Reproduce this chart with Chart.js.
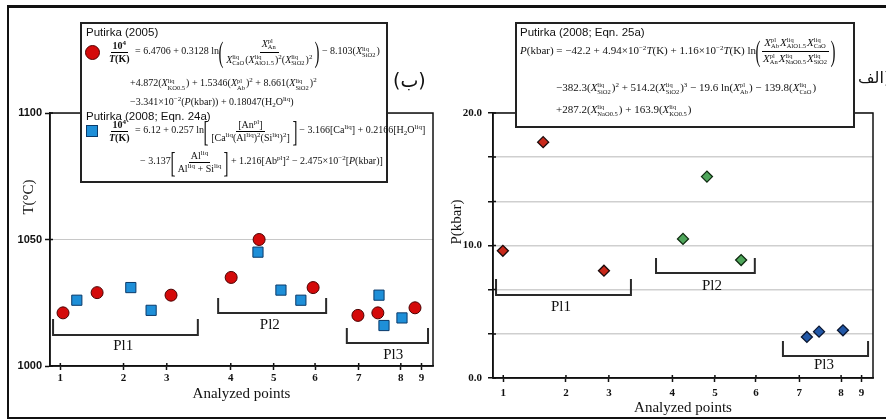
<!DOCTYPE html>
<html>
<head>
<meta charset="utf-8">
<script src="https://cdn.jsdelivr.net/npm/chart.js@4.4.0/dist/chart.umd.min.js"></script>
<style>
body{margin:0;width:886px;height:419px;position:relative;background:#fff;overflow:hidden;font-family:'Liberation Serif',serif;color:#111}
canvas{position:absolute;top:0}
#cT{left:0}
#cP{left:443px}
.frame{position:absolute;left:7px;top:5px;width:885px;height:409px;border-top:3px solid #111;border-left:2px solid #111;border-bottom:2px solid #111}
.box{position:absolute;background:#fff;border:2px solid #222;box-sizing:border-box}
.ln{position:absolute;white-space:nowrap;font-size:10px;line-height:1;transform:translateY(-50%)}
.hd{position:absolute;white-space:nowrap;font-family:'Liberation Sans',sans-serif;font-size:11.5px;transform:translateY(-50%)}
.ss{display:inline-flex;flex-direction:column;font-size:6.5px;line-height:6.5px;vertical-align:middle;text-align:left;margin:0 1px 0 0}
.fr{display:inline-flex;flex-direction:column;align-items:center;vertical-align:middle;margin:0 1px}
.fr>span{display:block;padding:0 2px;white-space:nowrap}
.fr>span:first-child{border-bottom:1px solid #000;padding-bottom:1px}
.fr>span:last-child{padding-top:1px}
.bp{display:inline-block;font-size:30px;line-height:1;transform:scaleX(.5);vertical-align:middle;margin:0 -3px;font-weight:normal}
sup{font-size:7px;vertical-align:4px;line-height:0}
sub{font-size:7px;vertical-align:-2px;line-height:0}
.ytl{position:absolute;font-size:15px;white-space:nowrap;transform:translate(-50%,-50%) rotate(-90deg)}
.ar{position:absolute;font-family:'DejaVu Sans',sans-serif;white-space:nowrap;transform:translateY(-50%)}
.mk{position:absolute;box-sizing:border-box}
</style>
</head>
<body>
<canvas id="cT" width="443" height="419"></canvas>
<canvas id="cP" width="443" height="419"></canvas>
<div class="frame"></div>

<div class="ytl" style="left:28px;top:197px">T(°C)</div>
<div class="ytl" style="left:456px;top:222px">P(kbar)</div>

<div class="box" style="left:80px;top:22px;width:308px;height:161px"></div>
<div class="hd" style="left:86px;top:32px">Putirka (2005)</div>
<div class="mk" style="left:85px;top:45px;width:15px;height:15px;border-radius:50%;background:#d40a0a;border:1px solid #500"></div>
<div class="ln" id="e1" style="left:106px;top:52px"></div>
<div class="ln" id="e2" style="left:130px;top:84px"></div>
<div class="ln" id="e3" style="left:130px;top:102px"></div>
<div class="hd" style="left:86px;top:116px">Putirka (2008; Eqn. 24a)</div>
<div class="mk" style="left:86px;top:125px;width:12px;height:12px;background:#1e8fd8;border:1px solid #0a3a6a"></div>
<div class="ln" id="e4" style="left:106px;top:131px"></div>
<div class="ln" id="e5" style="left:140px;top:162px"></div>

<div class="box" style="left:515px;top:22px;width:340px;height:106px"></div>
<div class="hd" style="left:520px;top:32px">Putirka (2008; Eqn. 25a)</div>
<div class="ln" id="e6" style="left:520px;top:51px;font-size:11px"></div>
<div class="ln" id="e7" style="left:556px;top:88px;font-size:11px"></div>
<div class="ln" id="e8" style="left:556px;top:110px;font-size:11px"></div>

<div class="ar" style="left:393px;top:80px;font-size:19px">(ب)</div>
<div class="ar" style="left:858px;top:77px;font-size:16px">الف)</div>

<script>
// x axis: position of each tick and its label (the ticks are not evenly spaced)
var tickPos = [0.27, 1.92, 3.05, 4.72, 5.84, 6.92, 8.06, 9.16, 9.70];
var tickLabels = ['1', '2', '3', '4', '5', '6', '7', '8', '9'];

var tempTicks = [1000, 1050, 1100];
var tempTickLabels = ['1000', '1050', '1100'];
var presTicks = [0, 3.33, 6.67, 10, 13.33, 16.67, 20];
var presTickLabels = ['0.0', '', '', '10.0', '', '', '20.0'];

var groups = ['Pl1', 'Pl2', 'Pl3'];

// temperature - Putirka (2005), red circles
var put05X = [0.34, 1.23, 3.16, 4.73, 5.46, 6.87, 8.04, 8.56, 9.53];
var put05T = [1021, 1029, 1028, 1035, 1050, 1031, 1020, 1021, 1023];
// temperature - Putirka (2008; 24a), blue squares
var put08X = [0.70, 2.11, 2.64, 5.43, 6.03, 6.55, 8.59, 8.72, 9.19];
var put08T = [1026, 1031, 1022, 1045, 1030, 1026, 1028, 1016, 1019];

// pressure - Putirka (2008; 25a)
var pl1X = [0.26, 1.32, 2.92];
var pl1P = [9.6, 17.8, 8.1];
var pl2X = [5.00, 5.63, 6.53];
var pl2P = [10.5, 15.2, 8.9];
var pl3X = [8.26, 8.58, 9.21];
var pl3P = [3.1, 3.5, 3.6];

// brackets under the groups (from, to, bottom, top of legs) + label spot
var tBrX0 = [0.08, 4.39, 7.75];
var tBrX1 = [3.86, 7.21, 9.87];
var tBrY = [1012.3, 1020.9, 1009.1];
var tBrTop = [1018.6, 1026.9, 1015.0];
var tLabX = [1.91, 5.74, 8.96];
var tLabY = [1007.9, 1016.2, 1004.3];

var pBrX0 = [0.08, 4.29, 7.63];
var pBrX1 = [3.63, 6.89, 9.87];
var pBrY = [6.26, 7.92, 1.66];
var pBrTop = [7.47, 9.06, 2.79];
var pLabX = [1.79, 5.76, 8.71];
var pLabY = [5.36, 6.94, 0.98];

// ---- equations in the boxes ----
function X(sub, sup) { return '<i>X</i><span class="ss"><span>' + sup + '</span><span>' + sub + '</span></span>'; }
function F(a, b) { return '<span class="fr"><span>' + a + '</span><span>' + b + '</span></span>'; }
function BP(c) { return '<span class="bp">' + c + '</span>'; }
var tk = F('<b>10<sup>4</sup></b>', '<b><i>T</i>(K)</b>');
document.getElementById('e1').innerHTML = tk + ' = 6.4706 + 0.3128 ln' + BP('(') +
  F(X('An', 'pl'), X('CaO', 'liq') + '(' + X('AlO1.5', 'liq') + ')<sup>2</sup>(' + X('SiO2', 'liq') + ')<sup>2</sup>') +
  BP(')') + ' &minus; 8.103(' + X('SiO2', 'liq') + ')';
document.getElementById('e2').innerHTML = '+4.872(' + X('KO0.5', 'liq') + ') + 1.5346(' + X('Ab', 'pl') + ')<sup>2</sup> + 8.661(' + X('SiO2', 'liq') + ')<sup>2</sup>';
document.getElementById('e3').innerHTML = '&minus;3.341&times;10<sup>&minus;2</sup>(<i>P</i>(kbar)) + 0.18047(H<sub>2</sub>O<sup>liq</sup>)';
document.getElementById('e4').innerHTML = tk + ' = 6.12 + 0.257 ln' + BP('[') +
  F('[An<sup>pl</sup>]', '[Ca<sup>liq</sup>(Al<sup>liq</sup>)<sup>2</sup>(Si<sup>liq</sup>)<sup>2</sup>]') +
  BP(']') + ' &minus; 3.166[Ca<sup>liq</sup>] + 0.2166[H<sub>2</sub>O<sup>liq</sup>]';
document.getElementById('e5').innerHTML = '&minus; 3.137' + BP('[') + F('Al<sup>liq</sup>', 'Al<sup>liq</sup> + Si<sup>liq</sup>') + BP(']') +
  ' + 1.216[Ab<sup>pl</sup>]<sup>2</sup> &minus; 2.475&times;10<sup>&minus;2</sup>[<i>P</i>(kbar)]';
document.getElementById('e6').innerHTML = '<i>P</i>(kbar) = &minus;42.2 + 4.94&times;10<sup>&minus;2</sup><i>T</i>(K) + 1.16&times;10<sup>&minus;2</sup><i>T</i>(K) ln' + BP('(') +
  F(X('Ab', 'pl') + X('AlO1.5', 'liq') + X('CaO', 'liq'), X('An', 'pl') + X('NaO0.5', 'liq') + X('SiO2', 'liq')) + BP(')');
document.getElementById('e7').innerHTML = '&minus;382.3(' + X('SiO2', 'liq') + ')<sup>2</sup> + 514.2(' + X('SiO2', 'liq') + ')<sup>3</sup> &minus; 19.6 ln(' + X('Ab', 'pl') + ') &minus; 139.8(' + X('CaO', 'liq') + ')';
document.getElementById('e8').innerHTML = '+287.2(' + X('NaO0.5', 'liq') + ') + 163.9(' + X('KO0.5', 'liq') + ')';

// ---- charts ----
Chart.defaults.font.family = "'Liberation Serif', serif";
Chart.defaults.color = '#111';

function pts(xs, ys) { return xs.map(function (x, i) { return { x: x, y: ys[i] }; }); }

function brackets(x0, x1, yb, yt) {
  return groups.map(function (g, i) {
    return {
      data: [{ x: x0[i], y: yt[i] }, { x: x0[i], y: yb[i] }, { x: x1[i], y: yb[i] }, { x: x1[i], y: yt[i] }],
      showLine: true, borderColor: '#2a2a2a', borderWidth: 2, pointRadius: 0, order: 5
    };
  });
}

// black border round the plot area + small inner tick marks
var framePlugin = {
  id: 'frame',
  afterDatasetsDraw: function (chart) {
    var a = chart.chartArea, c = chart.ctx;
    c.save();
    c.strokeStyle = '#111';
    c.lineWidth = 1.5;
    c.strokeRect(a.left, a.top, a.right - a.left, a.bottom - a.top);
    c.beginPath();
    chart.scales.x.ticks.forEach(function (t) {
      var px = chart.scales.x.getPixelForValue(t.value);
      c.moveTo(px, a.bottom); c.lineTo(px, a.bottom - 3);
    });
    chart.scales.y.ticks.forEach(function (t) {
      var py = chart.scales.y.getPixelForValue(t.value);
      c.moveTo(a.left, py); c.lineTo(a.left + 3, py);
    });
    c.stroke();
    c.restore();
  }
};

var labelPlugin = {
  id: 'groupLabels',
  afterDatasetsDraw: function (chart, args, opts) {
    var c = chart.ctx;
    c.save();
    c.font = "15px 'Liberation Serif'";
    c.fillStyle = '#111';
    c.textAlign = 'center';
    c.textBaseline = 'middle';
    groups.forEach(function (g, i) {
      c.fillText(g, chart.scales.x.getPixelForValue(opts.xs[i]), chart.scales.y.getPixelForValue(opts.ys[i]));
    });
    c.restore();
  }
};

function xAxis(h, pad) {
  return {
    type: 'linear', min: 0, max: 10,
    afterBuildTicks: function (s) { s.ticks = tickPos.map(function (v) { return { value: v }; }); },
    afterFit: function (s) { s.height = h; },
    ticks: { autoSkip: false, maxRotation: 0, padding: pad, font: { size: 11, weight: 'bold' },
      callback: function (v, i) { return tickLabels[i]; } },
    grid: { drawOnChartArea: false, tickLength: 4, tickColor: '#111', tickWidth: 1.5 },
    border: { display: true, color: '#111', width: 1.5 },
    title: { display: true, text: 'Analyzed points', font: { size: 15 }, padding: { top: 0, bottom: 0 } }
  };
}

new Chart(document.getElementById('cT'), {
  type: 'scatter',
  data: {
    datasets: [
      { data: pts(put05X, put05T), pointStyle: 'circle', pointRadius: 6, backgroundColor: '#d40a0a', borderColor: '#4a0000', borderWidth: 1, order: 1 },
      { data: pts(put08X, put08T), pointStyle: 'rect', pointRadius: 7.2, backgroundColor: '#1e8fd8', borderColor: '#0a3a6a', borderWidth: 1, order: 2 }
    ].concat(brackets(tBrX0, tBrX1, tBrY, tBrTop))
  },
  options: {
    responsive: false, animation: false,
    layout: { padding: { left: 0, right: 10, top: 113, bottom: 16 } },
    plugins: { legend: { display: false }, tooltip: { enabled: false }, groupLabels: { xs: tLabX, ys: tLabY } },
    scales: {
      x: xAxis(37, 2),
      y: {
        min: 1000, max: 1100,
        afterBuildTicks: function (s) { s.ticks = tempTicks.map(function (v) { return { value: v }; }); },
        afterFit: function (s) { s.width = 50; },
        ticks: { padding: 3, font: { family: "'Liberation Sans', sans-serif", size: 11, weight: 'bold' },
          callback: function (v, i) { return tempTickLabels[i]; } },
        grid: { color: '#c8c8c8', lineWidth: 1, tickLength: 5, tickColor: '#111', tickWidth: 1.5 },
        border: { display: true, color: '#111', width: 1.5 }
      }
    }
  },
  plugins: [framePlugin, labelPlugin]
});

new Chart(document.getElementById('cP'), {
  type: 'scatter',
  data: {
    datasets: [
      { data: pts(pl1X, pl1P), pointStyle: 'rectRot', pointRadius: 5.5, backgroundColor: '#c8281a', borderColor: '#1a0a0a', borderWidth: 1.3, order: 1 },
      { data: pts(pl2X, pl2P), pointStyle: 'rectRot', pointRadius: 5.5, backgroundColor: '#4fa65b', borderColor: '#0e2a10', borderWidth: 1.3, order: 1 },
      { data: pts(pl3X, pl3P), pointStyle: 'rectRot', pointRadius: 5.5, backgroundColor: '#2157a6', borderColor: '#0a1630', borderWidth: 1.3, order: 1 }
    ].concat(brackets(pBrX0, pBrX1, pBrY, pBrTop))
  },
  options: {
    responsive: false, animation: false,
    layout: { padding: { left: 0, right: 13, top: 113, bottom: 2 } },
    plugins: { legend: { display: false }, tooltip: { enabled: false }, groupLabels: { xs: pLabX, ys: pLabY } },
    scales: {
      x: xAxis(39, 5),
      y: {
        min: 0, max: 20,
        afterBuildTicks: function (s) { s.ticks = presTicks.map(function (v) { return { value: v }; }); },
        afterFit: function (s) { s.width = 50; },
        ticks: { padding: 6, font: { size: 11, weight: 'bold' },
          callback: function (v, i) { return presTickLabels[i]; } },
        grid: { color: '#cfcfcf', lineWidth: 1.5, tickLength: 5, tickColor: '#111', tickWidth: 1.5 },
        border: { display: true, color: '#111', width: 1.5 }
      }
    }
  },
  plugins: [framePlugin, labelPlugin]
});
</script>
</body>
</html>
